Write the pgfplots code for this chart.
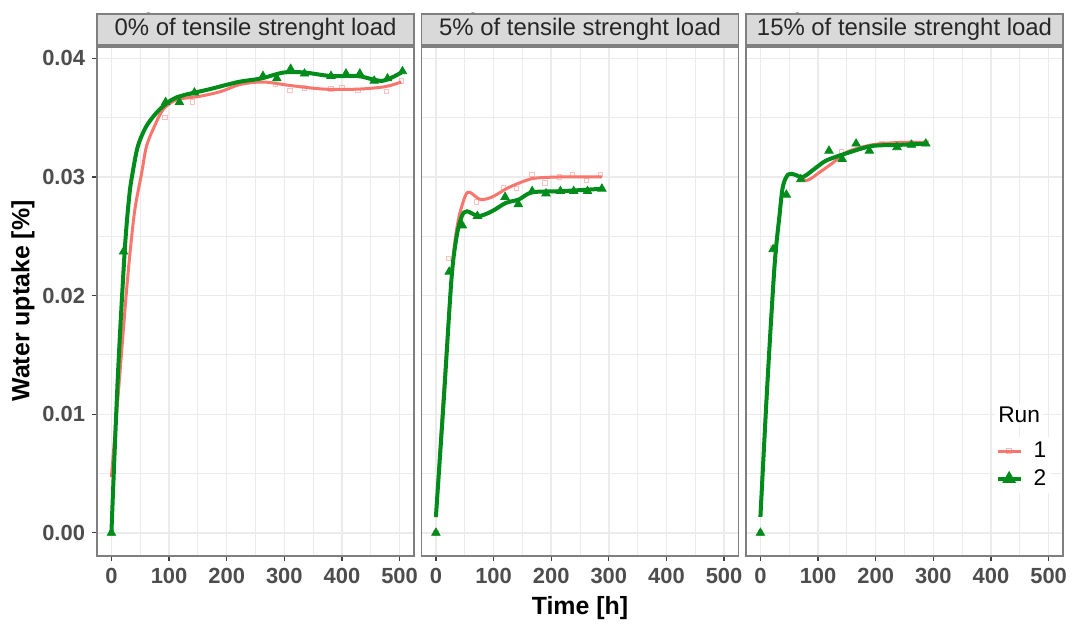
\documentclass[border=0pt]{standalone}
\usepackage{pgfplots}
\pgfplotsset{compat=1.18}
\usepackage{fontspec}
\setmainfont{Liberation Sans}
\definecolor{runA}{HTML}{F8766D}
\definecolor{runB}{HTML}{008C1A}
\definecolor{gridgray}{HTML}{EBEBEB}
\definecolor{bordergray}{HTML}{7F7F7F}
\definecolor{stripgray}{HTML}{D9D9D9}
\definecolor{ticklabelgray}{HTML}{4D4D4D}

\tikzset{
  strip/.style={anchor=south, yshift=0.6bp, fill=stripgray, draw=bordergray, line width=0.8bp,
    minimum width=158.5bp, minimum height=15.5bp, inner sep=0pt,
    font=\fontsize{12}{14}\selectfont, text=black!85},
}
\pgfplotsset{
  panel/.style={
    scale only axis, width=158.5bp, height=254.5bp,
    xmin=-25, xmax=525, ymin=-0.00195, ymax=0.04095,
    xtick={0,100,200,300,400,500}, xticklabels={0,100,200,300,400,500},
    minor xtick={50,150,250,350,450},
    ytick={0,0.01,0.02,0.03,0.04},
    minor ytick={0.005,0.015,0.025,0.035},
    grid=both,
    major grid style={color=gridgray, line width=0.7bp},
    minor grid style={color=gridgray, line width=0.5bp},
    axis line style={color=bordergray, line width=0.8bp},
    tick align=outside, major tick length=2.5bp, minor tick length=0pt,
    tick style={color=black!75, line width=0.6bp},
    xtick pos=left, ytick pos=left,
    tick label style={font=\bfseries\fontsize{11}{13}\selectfont, text=ticklabelgray},
    clip mode=individual,
    axis background/.style={fill=white},
  },
  curveA/.style={color=runA, line width=1.5bp, smooth, tension=0.5, no markers},
  curveB/.style={color=runB, line width=2bp, smooth, tension=0.5, no markers},
  ptsA/.style={only marks, mark=square, mark size=1.1bp, mark options={draw=runA, line width=0.5bp, opacity=0.45}},
  ptsB/.style={only marks, mark=triangle*, mark size=2.4bp, mark options={fill=runB, draw=runB}},
}

\begin{document}
\begin{tikzpicture}
% ---------------- Panel 1: 0% ----------------
\begin{axis}[panel, at={(0bp,0bp)}, anchor=south west,
  yticklabels={0.00,0.01,0.02,0.03,0.04}]
\addplot[curveA] coordinates {(0,0.0047) (14,0.0130) (28,0.0214) (40,0.0270) (52,0.0302) (61,0.0326) (75,0.0343) (90,0.0357) (113,0.0365) (154,0.0368) (190,0.0372) (224,0.0378) (264,0.0380) (311,0.0377) (369,0.0374) (428,0.0374) (474,0.0376) (503,0.0380)};
\addplot[ptsA] coordinates {(0,0) (93,0.0350) (116,0.0367) (141,0.0363) (285,0.0378) (310,0.0373) (335,0.0375) (381,0.0374) (400,0.0375) (428,0.0373) (477,0.0372) (503,0.0381)};
\addplot[curveB] coordinates {(0,0) (11,0.0130) (23,0.0237) (31,0.0284) (37,0.0304) (46,0.0326) (61,0.0343) (84,0.0357) (113,0.0367) (171,0.0374) (220,0.0380) (260,0.0383) (299,0.0388) (335,0.0388) (381,0.0385) (428,0.0385) (470,0.0381) (503,0.0388)};
\addplot[ptsB] coordinates {(0,0) (21,0.0237) (94,0.0363) (118,0.0363) (144,0.0371) (263,0.0385) (287,0.0383) (311,0.0391) (335,0.0387) (381,0.0385) (407,0.0387) (431,0.0387) (456,0.0381) (479,0.0383) (505,0.0389)};
\node[strip] at (rel axis cs:0.5,1) {0\% of tensile strenght load};
\end{axis}
% ---------------- Panel 2: 5% ----------------
\begin{axis}[panel, at={(162.25bp,0bp)}, anchor=south west,
  yticklabels={}, ytick style={draw=none}]
\addplot[curveA] coordinates {(0,0.0013) (15,0.0130) (30,0.0231) (39,0.0264) (51,0.0284) (59,0.0287) (77,0.0281) (97,0.0283) (126,0.0291) (156,0.0297) (173,0.0299) (217,0.0300) (288,0.0300)};
\addplot[ptsA] coordinates {(0,0) (22,0.0231) (70,0.0279) (117,0.0291) (140,0.0290) (167,0.0302) (189,0.0295) (214,0.0300) (237,0.0302) (261,0.0297) (286,0.0302)};
\addplot[curveB] coordinates {(0,0.00135) (14,0.0115) (27,0.0214) (36,0.0250) (45,0.0267) (54,0.0271) (74,0.0267) (97,0.0271) (121,0.0278) (144,0.0281) (167,0.0287) (218,0.0288) (288,0.0290)};
\addplot[ptsB] coordinates {(0,0) (23,0.0220) (46,0.0259) (72,0.0267) (120,0.0283) (143,0.0277) (167,0.0288) (191,0.0286) (216,0.0288) (239,0.0288) (263,0.0288) (288,0.0290)};
\node[strip] at (rel axis cs:0.5,1) {5\% of tensile strenght load};
\end{axis}
% ---------------- Panel 3: 15% ----------------
\begin{axis}[panel, at={(324.5bp,0bp)}, anchor=south west,
  yticklabels={}, ytick style={draw=none},
  legend style={at={(0.78,0.235)}, anchor=north west, fill=white, draw=none,
    font=\fontsize{11.4}{13}\selectfont, inner sep=1bp, row sep=1.5bp,
    nodes={inner sep=1.5bp},
    /tikz/every odd column/.append style={column sep=4bp}},
  legend cell align=left,
  legend image code/.code={\draw[mark repeat=2,mark phase=2,#1] plot coordinates {(0bp,0bp) (5.75bp,0bp) (11.5bp,0bp)};}]
\addplot[curveA, forget plot] coordinates {(0,0.00135) (12,0.0125) (24.5,0.0225) (33,0.0267) (39,0.0292) (48,0.0302) (59,0.0302) (80,0.0297) (103,0.0304) (126,0.0312) (150,0.0321) (193,0.0327) (240,0.0329) (287,0.0329)};
\addplot[ptsA, forget plot] coordinates {(0,0) (22,0.0240) (70,0.0298) (141,0.0321) (211,0.0328) (237,0.0328) (262,0.0329) (287,0.0329)};
\addplot[curveB, forget plot] coordinates {(0,0.00135) (12,0.0125) (24.5,0.0225) (33,0.0267) (39,0.0292) (48,0.0302) (59,0.0302) (74,0.0300) (97,0.0308) (115,0.0314) (150,0.0320) (193,0.0326) (240,0.0327) (287,0.0328)};
\addplot[ptsB, forget plot] coordinates {(0,0) (22,0.0239) (45,0.0285) (70,0.0298) (119,0.0322) (142,0.0315) (166,0.0328) (189,0.0322) (237,0.0325) (262,0.0327) (287,0.0328)};
\addlegendimage{color=runA, line width=1.5bp, mark=square, mark size=1.1bp, mark options={line width=0.5bp, opacity=0.5}}
\addlegendentry{1}
\addlegendimage{color=runB, line width=2bp, mark=triangle*, mark size=2bp}
\addlegendentry{2}
\node[strip] at (rel axis cs:0.5,1) {15\% of tensile strenght load};
\node[anchor=west, fill=white, inner sep=1.5bp, font=\fontsize{11.4}{13}\selectfont] at (rel axis cs:0.785,0.277) {Run};
\end{axis}
% ---------------- axis titles ----------------
\node[font=\bfseries\fontsize{12.5}{14}\selectfont] at (241.5bp,-26bp) {Time [h]};
\node[font=\bfseries\fontsize{12.5}{14}\selectfont, rotate=90] at (-37bp,127.5bp) {Water uptake [\%]};
\pgfresetboundingbox
\useasboundingbox (-48.5bp,-36bp) rectangle (488.5bp,278bp);
\end{tikzpicture}
\end{document}
